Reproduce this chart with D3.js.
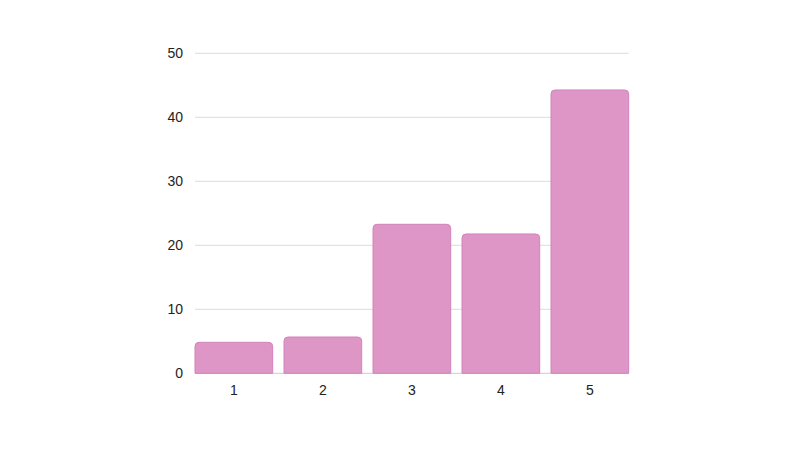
<!DOCTYPE html>
<html><head><meta charset="utf-8">
<script src="https://cdn.jsdelivr.net/npm/d3@7"></script>
<style>body{margin:0;background:#fff}svg{display:block}</style>
</head><body>
<svg id="c" width="800" height="450"></svg>
<script>
const categories = ["1","2","3","4","5"];
const values = [4.84, 5.67, 23.28, 21.77, 44.27];
const yTicks = [0,10,20,30,40,50];

const svg = d3.select("#c");
const m = {l:195, r:171.3, t:53.3, b:76.7};
const W = 800, H = 450;
const x = d3.scaleBand().domain(categories).range([m.l, W - m.r]).paddingInner(0.127).paddingOuter(0);
const y = d3.scaleLinear().domain([0,50]).range([H - m.b, m.t]);

// gridlines
svg.append("g").selectAll("line").data(yTicks).join("line")
  .attr("x1", m.l).attr("x2", W - m.r)
  .attr("y1", d => y(d)).attr("y2", d => y(d))
  .attr("stroke", d => d === 0 ? "#cccccc" : "#dddddd").attr("stroke-width", 1);

// y labels
svg.append("g").selectAll("text").data(yTicks).join("text")
  .attr("x", 183).attr("y", d => y(d)).attr("dy", "0.35em")
  .attr("text-anchor", "end")
  .attr("font-family", "Liberation Sans, Arial, sans-serif").attr("font-size", 14).attr("fill", "#222")
  .text(d => d);

// bars with rounded top corners
const r = 4;
function barPath(d, i) {
  const x0 = x(categories[i]), w = x.bandwidth();
  const y0 = y(d), yb = y(0);
  return `M${x0},${yb} L${x0},${y0 + r} Q${x0},${y0} ${x0 + r},${y0} L${x0 + w - r},${y0} Q${x0 + w},${y0} ${x0 + w},${y0 + r} L${x0 + w},${yb} Z`;
}
svg.append("g").selectAll("path").data(values).join("path")
  .attr("d", (d, i) => barPath(d, i))
  .attr("fill", "#dd96c6").attr("stroke", "#d283bb").attr("stroke-width", 1);

// x labels
svg.append("g").selectAll("text").data(categories).join("text")
  .attr("x", d => x(d) + x.bandwidth() / 2).attr("y", 394.5)
  .attr("text-anchor", "middle")
  .attr("font-family", "Liberation Sans, Arial, sans-serif").attr("font-size", 14).attr("fill", "#222")
  .text(d => d);
</script>
</body></html>
